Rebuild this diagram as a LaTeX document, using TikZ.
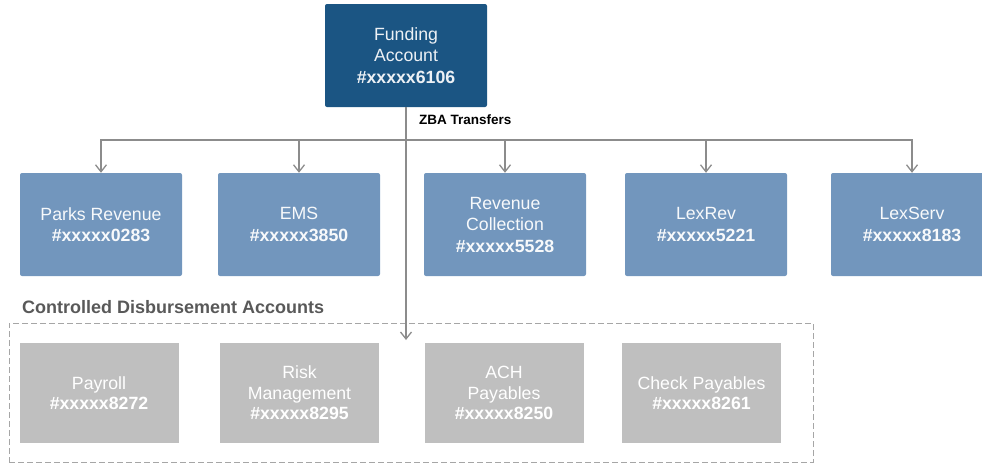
\documentclass[tikz,border=0pt]{standalone}
\usepackage{fontspec}
\setmainfont{Liberation Sans}
\usepackage{xcolor}
\usepackage{tikz}
\usetikzlibrary{positioning, arrows.meta}

\definecolor{fundblue}{HTML}{1B5583}
\definecolor{acctblue}{HTML}{7296BD}
\definecolor{cdagray}{HTML}{BFBFBF}
\definecolor{linegray}{HTML}{8C8C8C}
\definecolor{dashgray}{HTML}{A6A6A6}

\begin{document}
\begin{tikzpicture}[x=1pt, y=-1pt, >={Straight Barb[length=7pt, width=11pt]},
  fundnode/.style={rectangle, rounded corners=2pt, fill=fundblue, text=white!92!fundblue, minimum width=162pt, minimum height=103pt, align=center, font=\fontsize{17.7}{21.5}\selectfont},
  acctnode/.style={rectangle, rounded corners=2pt, fill=acctblue, text=white!94!acctblue, minimum width=162pt, minimum height=103pt, align=center, font=\fontsize{17.7}{21.5}\selectfont},
  cdanode/.style={rectangle, fill=cdagray, text=white, minimum width=159pt, minimum height=100pt, align=center, font=\fontsize{17.7}{20.5}\selectfont},
  conn/.style={draw=linegray, line width=1.3pt}]
\useasboundingbox (0, 0) rectangle (982, 464);

\node[draw=dashgray, dash pattern=on 6pt off 3pt, line width=0.9pt, minimum width=804pt, minimum height=139pt] at (411, 392.5) (cda) {};
\node[anchor=west, inner sep=0, text=black!65, font=\bfseries\fontsize{18}{20}\selectfont] at (22, 307) (cdatitle) {Controlled Disbursement Accounts};

\node[fundnode] at (406, 55.5) (0h2) {Funding\\Account\\\textbf{\#xxxxx6106}};
\node[anchor=west, inner sep=0, font=\bfseries\fontsize{13.5}{15}\selectfont] at (419, 120) (zba) {ZBA Transfers};
\coordinate (bus) at (0, 140);
\coordinate (cdatip) at (406, 340);

\node[acctnode] at (101, 224.5) (1h1) {Parks Revenue\\\textbf{\#xxxxx0283}};
\node[acctnode] at (299, 224.5) (2h1) {EMS\\\textbf{\#xxxxx3850}};
\node[acctnode] at (505, 224.5) (3h1) {Revenue\\Collection\\\textbf{\#xxxxx5528}};
\node[acctnode] at (706, 224.5) (4h1) {LexRev\\\textbf{\#xxxxx5221}};
\node[acctnode] at (912, 224.5) (5h1) {LexServ\\\textbf{\#xxxxx8183}};

\draw[conn, ->] (0h2.south |- bus) -| (1h1.north);
\draw[conn, ->] (0h2.south |- bus) -| (2h1.north);
\draw[conn, ->] (0h2.south |- bus) -| (3h1.north);
\draw[conn, ->] (0h2.south |- bus) -| (4h1.north);
\draw[conn, ->] (0h2.south |- bus) -| (5h1.north);
\draw[conn, ->] (0h2.south) -- (cdatip);

\node[cdanode] at (99, 393) (1h0) {Payroll\\\textbf{\#xxxxx8272}};
\node[cdanode] at (299.5, 393) (2h0) {Risk\\Management\\\textbf{\#xxxxx8295}};
\node[cdanode] at (504, 393) (3h0) {ACH\\Payables\\\textbf{\#xxxxx8250}};
\node[cdanode] at (701.5, 393) (4h0) {Check Payables\\\textbf{\#xxxxx8261}};

\end{tikzpicture}
\end{document}
